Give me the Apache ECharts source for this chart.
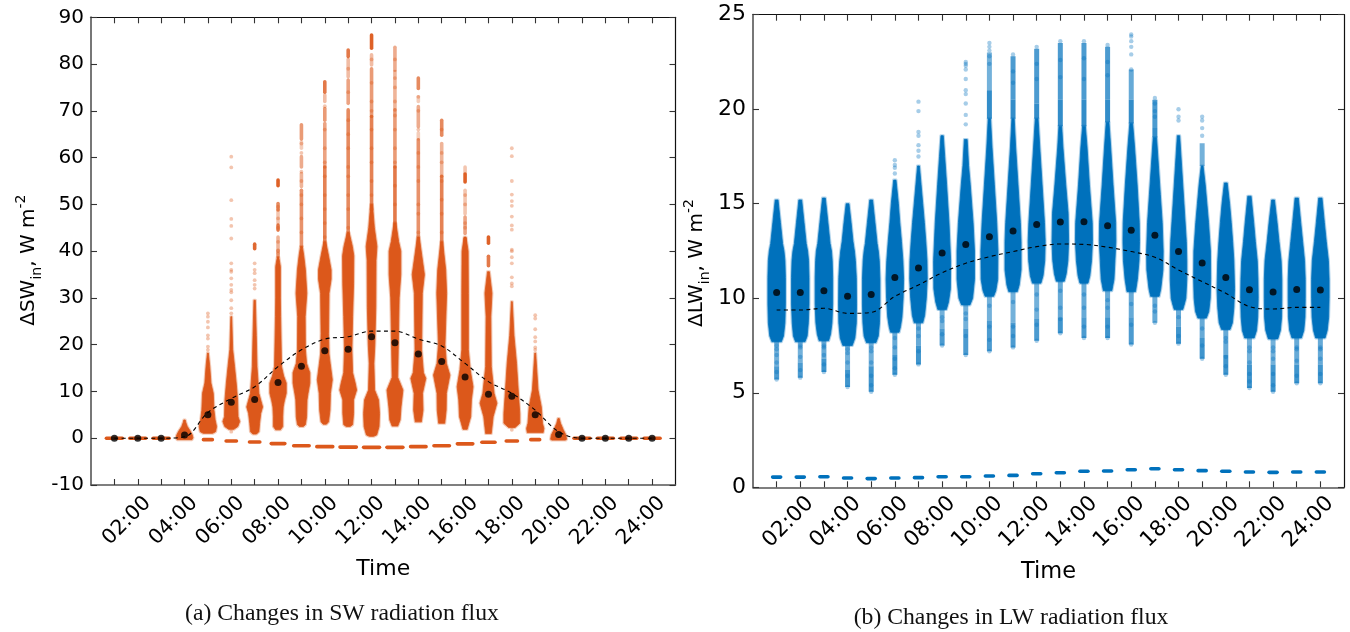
<!DOCTYPE html>
<html><head><meta charset="utf-8">
<script src="https://cdn.jsdelivr.net/npm/echarts@6/dist/echarts.min.js"></script>
<style>html,body{margin:0;padding:0;background:#fff}#c{width:1350px;height:632px}</style>
</head><body><div id="c"></div>
<script>
// ---------- shared ----------
const hours = [1,2,3,4,5,6,7,8,9,10,11,12,13,14,15,16,17,18,19,20,21,22,23,24];
const timeLabels = {2:'02:00',4:'04:00',6:'06:00',8:'08:00',10:'10:00',12:'12:00',14:'14:00',16:'16:00',18:'18:00',20:'20:00',22:'22:00',24:'24:00'};
const orange = '#DC581B', blue = '#0071BC';

// ---------- (a) SW ----------
const swMedian = [0,0,0,0.7,5,7.7,8.3,11.9,15.4,18.7,19,21.7,20.4,18,16.4,13.1,9.4,9,5,0.8,0,0,0,0];
const swMean = [0,0,0,0.3,5.5,8.5,11,15.3,18.9,21.2,21.7,22.9,22.9,21.2,19.7,16,12.1,9.6,6,1.4,0,0,0,0];
const swBase = [0,0,0,null,-0.3,-0.6,-0.8,-1.15,-1.6,-1.8,-1.9,-1.95,-1.95,-1.8,-1.6,-1.2,-0.85,-0.6,-0.3,null,0,0,0,0];
const swBaseHalf = [.34,.34,.34,0,.19,.22,.22,.29,.33,.34,.35,.34,.34,.33,.33,.33,.28,.24,.19,0,.34,.34,.34,.34];
// [value, half width in hours]
const swViolin = [
 [],[],[],
 [[3.9,.03],[3.3,.06],[2.5,.12],[1.5,.25],[0.7,.33],[0.1,.36],[-0.3,.32]],
 [[18.2,.02],[15.3,.08],[11.8,.13],[9.6,.23],[6,.26],[3.9,.31],[2.5,.37],[1.4,.33],[1.05,.2]],
 [[26,.02],[19,.06],[15.3,.14],[11.8,.21],[8.2,.27],[4.6,.29],[3.6,.36],[2.5,.28],[1.9,.11]],
 [[29.5,.03],[22,.07],[15.3,.1],[9.6,.18],[6.7,.34],[5.3,.26],[3.2,.21],[1.4,.18],[0.9,.08]],
 [[38.8,.03],[36.7,.1],[30,.1],[26,.11],[15.3,.15],[13.3,.24],[11.8,.35],[9.6,.35],[8,.27],[6.7,.22],[4.6,.2],[2.5,.2],[1.8,.1]],
 [[41,.04],[39,.1],[36,.17],[31,.23],[26,.16],[18.9,.17],[16,.22],[14,.36],[11.8,.36],[9.5,.28],[8.2,.24],[4.6,.22],[2.9,.17],[2.5,.08]],
 [[42,.04],[39,.16],[36,.27],[34,.27],[31,.18],[22.4,.16],[18,.18],[16,.23],[12.5,.32],[9.6,.24],[6,.22],[3.5,.16],[3,.07]],
 [[44,.04],[41,.18],[39,.24],[33,.23],[26,.19],[18.9,.16],[14,.19],[11.8,.3],[10.3,.36],[8.2,.23],[5.3,.23],[2.9,.19],[2.5,.08]],
 [[50,.04],[45,.12],[41,.23],[38,.19],[28,.18],[20,.14],[16,.1],[10.3,.13],[8.2,.3],[5.3,.34],[2.5,.32],[0.7,.22],[0.4,.09]],
 [[46,.04],[42,.16],[40,.25],[35,.25],[30,.18],[18.9,.14],[13,.12],[10.3,.34],[6.7,.26],[3.9,.22],[2.6,.12]],
 [[43,.04],[39,.15],[35,.26],[31,.17],[18.9,.14],[14,.22],[12.8,.32],[9.6,.18],[6,.2],[3.5,.13]],
 [[42,.04],[36,.17],[31,.21],[20,.14],[16,.2],[13.5,.35],[9.6,.2],[6,.19],[3.2,.13]],
 [[43,.04],[40,.13],[31,.14],[18.9,.14],[14.6,.22],[11,.34],[8.2,.27],[4.6,.24],[1.9,.09]],
 [[35.6,.04],[31,.15],[26,.1],[15.3,.12],[9.6,.24],[7.5,.36],[4.6,.2],[1,.12]],
 [[29.2,.02],[22,.09],[16,.2],[8.9,.29],[5.3,.34],[3.2,.34],[2.3,.14]],
 [[18.2,.02],[10.3,.12],[6.7,.26],[3.2,.31],[2.1,.37],[1.2,.34]],
 [[4.2,.03],[3.2,.08],[1.8,.2],[0.7,.31],[-0.2,.34],[-0.4,.3]],
 [],[],[],[]
];
// [low, high, opacity]
const swStreaks = [
 [],[],[],[],[],[],
 [[40.5,41.5,.9]],
 [[54,55.2,.95],[48.8,50.2,.7],[46,48.8,.35],[44.5,45.6,.8],[40,43,.45],[38.8,40.2,.5]],
 [[64,67,.6],[62,63.4,.3],[58,60.2,.5],[53.8,56.6,.45],[41,53,.65]],
 [[74,76.2,.8],[72,73.4,.4],[68,70.5,.6],[58,67.3,.55],[41,58,.75]],
 [[81.6,83,.8],[77.3,81,.4],[71.6,76.6,.55],[41,70.2,.7]],
 [[83.4,86.2,.95],[79.8,82,.4],[68.8,79,.6],[48.8,68.8,.75]],
 [[78.7,83.6,.5],[70.2,78.4,.45],[58,70.2,.6],[42,58,.8]],
 [[74.8,77,.7],[72,73,.3],[66.6,70.9,.5],[64,65.3,.3],[40,63.8,.65]],
 [[64.8,68,.7],[56,63,.45],[40,56,.75]],
 [[56.7,58,.35],[54.8,56.5,.95],[48,53,.35],[43.8,47.3,.55],[40.5,42.7,.8]],
 [[41.7,43,.95],[36.9,38.9,.8]],
 [],[],[],[],[],[],[]
];
const swSpeckle = [
 [],[],[],[],
 [26.7,26,24.9,23.7,22,21.3,19.6,18.9],
 [60.2,57.9,50.9,46.9,45.4,42.7,37.4,36,35.6,34.2,32.8,31.7,31.2,29.5,27.8,26.7,1.4],
 [37.4,36,35.3,33.8,32.8,32],
 [49.5,47,45,42,39.5],
 [63,61,57,55,52,50,47,44],
 [71,66,62,59,56,52,49,46,43],
 [79,74,68,65,62,58,56,52,49,45],
 [81,76,72,70,66,62,59,55,52,49,46],
 [81,77,75,72,69,66,62,59,54,50,46],
 [73,70,66,61,58,55,50,48,44],
 [66,61,59,55,51,48,44],
 [52,50,46,45],
 [],
 [62,60.3,55,52.1,50.7,49.7,47.4,45.5,44.6,40.3,40,38.7,37.4,34.4,33.1,32.5,1.8],
 [26.3,25.6,23.3,21.6,20.7,19.4,18.9],
 [],[],[],[],[]
];

// ---------- (b) LW ----------
const lwMedian = [10.3,10.3,10.4,10.1,10.2,11.1,11.6,12.4,12.84,13.26,13.56,13.9,14.03,14.05,13.84,13.6,13.33,12.47,11.87,11.1,10.45,10.33,10.47,10.44];
const lwMean = [9.38,9.38,9.47,9.2,9.25,10.1,10.7,11.35,11.85,12.2,12.47,12.73,12.87,12.85,12.7,12.47,12.17,11.5,10.88,10.26,9.56,9.43,9.52,9.52];
const lwBase = [.54,.54,.56,.49,.46,.49,.51,.56,.56,.6,.63,.72,.77,.85,.86,.93,.98,.93,.88,.85,.81,.79,.81,.81];
const lwBaseHalf = [.17,.17,.17,.17,.17,.17,.17,.17,.17,.17,.17,.17,.17,.17,.17,.17,.17,.17,.17,.17,.17,.17,.17,.17];
const lwViolin = [
 [[15.2,.06],[14,.16],[12.9,.25],[12.5,.31],[12,.35],[11.1,.37],[9.7,.37],[8.7,.35],[8,.29],[7.7,.2]],
 [[15.2,.06],[14,.16],[12.9,.25],[12.5,.31],[12,.35],[11.1,.37],[9.7,.37],[8.7,.34],[8,.29],[7.7,.2]],
 [[15.3,.06],[14,.17],[12.9,.26],[12.5,.32],[12,.35],[11.1,.37],[9.7,.37],[8.7,.34],[8.1,.28],[7.75,.2]],
 [[15,.06],[14,.15],[13,.23],[12.5,.29],[12,.33],[11.1,.37],[9.7,.38],[8.7,.37],[7.9,.31],[7.5,.2]],
 [[15.2,.06],[14,.16],[12.9,.25],[12.5,.3],[12,.34],[11,.37],[9.7,.37],[8.7,.35],[8,.3],[7.65,.2]],
 [[16.25,.05],[15,.15],[14,.21],[13,.28],[12,.34],[11,.37],[10,.35],[9,.3],[8.5,.24],[8.2,.18]],
 [[17,.04],[16,.11],[15,.18],[14,.25],[13,.31],[12,.36],[11,.37],[10,.33],[9.1,.26],[8.7,.18]],
 [[18.6,.05],[17.5,.11],[16,.19],[14,.29],[12,.36],[10.5,.35],[9.8,.27],[9.4,.18]],
 [[18.4,.06],[17,.12],[16,.19],[14,.31],[12.5,.37],[11,.37],[10,.29],[9.65,.18]],
 [[19.5,.05],[18,.11],[16,.21],[14,.31],[12.5,.36],[11,.35],[10.4,.27],[10.1,.18]],
 [[19.5,.05],[18,.11],[16,.21],[14,.31],[13,.34],[11.5,.34],[10.7,.26],[10.35,.18]],
 [[19.5,.06],[18,.13],[16,.23],[14,.33],[13,.36],[12,.34],[11.2,.27],[10.8,.18]],
 [[19.1,.06],[18,.11],[16,.23],[14.5,.33],[13,.35],[12,.32],[11.3,.25],[10.9,.17]],
 [[19.1,.06],[18,.13],[16,.23],[14,.35],[13,.36],[12,.32],[11.2,.25],[10.8,.17]],
 [[19.3,.06],[18,.13],[16,.23],[14,.34],[13,.35],[12,.31],[11,.27],[10.4,.18]],
 [[19.25,.06],[18,.14],[16,.25],[14,.34],[13,.35],[12,.33],[11,.26],[10.35,.18]],
 [[18.5,.07],[17,.15],[15.5,.23],[14,.31],[12.5,.35],[11.5,.34],[10.5,.25],[10.1,.18]],
 [[18.6,.05],[17,.13],[15,.23],[13,.33],[12,.35],[11,.35],[10,.31],[9.7,.25],[9.4,.18]],
 [[17,.04],[16,.13],[15,.2],[14,.27],[12.5,.35],[11,.36],[10,.34],[9.3,.28],[8.95,.18]],
 [[16.1,.06],[15,.16],[14,.23],[13,.29],[12,.34],[10.5,.37],[9.5,.34],[8.7,.28],[8.35,.18]],
 [[15.4,.07],[14,.18],[13,.25],[12,.33],[11,.36],[10,.37],[9,.35],[8.3,.3],[7.9,.2]],
 [[15.2,.06],[14,.17],[13,.25],[12,.34],[11,.37],[10,.37],[9,.36],[8.3,.31],[7.85,.2]],
 [[15.3,.07],[14,.17],[13,.25],[12,.33],[11,.36],[10,.36],[9,.35],[8.3,.3],[7.9,.2]],
 [[15.3,.07],[14,.17],[13,.25],[12,.34],[11,.37],[10,.37],[9,.35],[8.3,.29],[7.9,.2]]
];
const lwStreaks = [
 [[6.4,7.8,.55],[5.7,6.4,.7]],
 [[6.6,7.8,.55],[5.8,6.6,.7]],
 [[6.8,7.8,.6],[6.1,6.8,.75]],
 [[6.2,7.6,.55],[5.3,6.2,.75]],
 [[6.4,7.7,.55],[5.05,6.4,.75]],
 [[7,8.3,.6],[5.95,7,.75]],
 [[7.5,8.8,.6],[6.5,7.5,.75]],
 [[8.4,9.5,.55],[7.5,8.4,.7]],
 [[8.4,9.7,.55],[7,8.4,.7]],
 [[8.8,10.1,.55],[7.2,8.8,.7],[19.5,21,.8],[21,23,.55]],
 [[8.7,10.4,.55],[7.4,8.7,.7],[19.5,20.5,.8],[20.5,22.8,.7]],
 [[8.9,10.8,.55],[7.75,8.9,.7],[19.5,20.3,.8],[20.3,23.2,.7]],
 [[9,11,.6],[8.15,9,.75],[19.1,20.5,.8],[20.5,23.5,.7]],
 [[9,10.9,.6],[7.9,9,.7],[19.1,20.5,.8],[20.5,23.5,.7]],
 [[9,10.5,.6],[7.9,9,.75],[19.3,20.5,.8],[20.5,23.3,.7]],
 [[9,10.4,.6],[7.55,9,.7],[19.25,20.5,.8],[20.5,22.1,.6]],
 [[8.7,10.2,.6],[19,20.5,.7],[18.5,19,.8]],
 [[8.5,9.5,.6],[7.6,8.5,.75]],
 [[7.9,9,.6],[6.8,7.9,.75],[17,18.2,.55]],
 [[7,8.4,.6],[5.95,7,.75]],
 [[6.5,8,.55],[5.25,6.5,.75]],
 [[6.5,7.9,.55],[5.05,6.5,.75]],
 [[6.5,8,.6],[5.5,6.5,.75]],
 [[6.5,8,.6],[5.5,6.5,.75]]
];
const lwSpeckle = [
 [7.5,7.3,7,6.6,6.1,5.7],[7.5,7.4,6.9,6.2,5.8],[7.5,7.4,7,6.5,6.1],[7.3,7.1,6.6,5.9,5.3],[7.4,7.2,6.6,5.9,5.4,5.05],
 [16.6,16.9,17.05,17.3,7.9,7.4,6.8,6.3,5.95],
 [20.4,19.9,18.8,18.6,18.1,17.8,17.5,8.4,8,7.2,6.5],
 [9,8.8,8.1,7.5],
 [22.5,22.4,22.3,22.1,21.6,21,20.8,20.3,19.7,19.2,9.2,8.9,8,7],
 [23.5,23.3,23.1,22.8,22.4,9.6,8.5,7.8,7.2],
 [22.9,22,21.4,9.8,8.5,8,7.4],
 [23.3,22.4,21.6,10.2,9.4,8.6,7.75],
 [23.6,22.6,21.7,10.4,9.5,8.9,8.15],
 [23.6,22.7,21.6,10.2,9.5,8.5,7.9],
 [23.4,22.5,21.8,9.9,9.5,8.5,7.9],
 [23.95,23.85,23.6,23.3,22.9,22.1,9.7,8.6,7.55],
 [20.6,20.3,19.9,19.6,9.6,9.3,8.7],
 [20,19.6,19.4,9,8,7.6],
 [19.6,19.4,19,18.6,8.4,7.5,6.8],
 [7.9,7.7,6.9,6.4,5.95],
 [7.4,7.2,6.6,6,5.6,5.25],
 [7.4,7.2,6.8,6,5.4,5.05],
 [7.4,7.3,6.7,5.9,5.5],
 [7.4,7.3,6.8,6,5.5]
];

// ---------- drawing helpers (geometry comes from api.coord only) ----------
function violinSeries(axis, profiles, color){
  return {type:'custom', xAxisIndex:axis, yAxisIndex:axis, silent:true, clip:true, z:2,
    data:hours.map(h=>[h,0]),
    renderItem(p, api){
      const h = hours[p.dataIndex], stops = profiles[p.dataIndex];
      if(!stops.length) return;
      const pts = stops.map(s=>api.coord([h-s[1],s[0]]))
        .concat(stops.slice().reverse().map(s=>api.coord([h+s[1],s[0]])));
      return {type:'group', children:[
        {type:'polygon', shape:{points:pts}, style:{fill:'none', stroke:color, opacity:.3, lineWidth:3, lineJoin:'round'}},
        {type:'polygon', shape:{points:pts}, style:{fill:color, stroke:color, lineWidth:.8, lineJoin:'round'}}
      ]};
    }};
}
function streakSeries(axis, streaks, color, width, cap){
  const items = [];
  hours.forEach((h,i)=>streaks[i].forEach(s=>items.push([h,s[0],s[1],s[2]])));
  return {type:'custom', xAxisIndex:axis, yAxisIndex:axis, silent:true, clip:true, z:1,
    data:items,
    renderItem(p, api){
      const a = api.coord([api.value(0),api.value(1)]), b = api.coord([api.value(0),api.value(2)]);
      return {type:'line', shape:{x1:a[0],y1:a[1],x2:b[0],y2:b[1]},
        style:{stroke:color, lineWidth:width, lineCap:cap, opacity:api.value(3)}};
    }};
}
function speckleSeries(axis, speckle, color, size){
  const pts = [];
  hours.forEach((h,i)=>speckle[i].forEach(v=>pts.push([h,v])));
  return {type:'scatter', xAxisIndex:axis, yAxisIndex:axis, silent:true, z:3, symbolSize:size,
    itemStyle:{color, opacity:.35}, data:pts};
}
function baseSeries(axis, base, half, color){
  const items = hours.map((h,i)=>[h,base[i],half[i]]).filter(d=>d[1]!==null);
  return {type:'custom', xAxisIndex:axis, yAxisIndex:axis, silent:true, clip:true, z:2,
    data:items,
    renderItem(p, api){
      const a = api.coord([api.value(0)-api.value(2),api.value(1)]), b = api.coord([api.value(0)+api.value(2),api.value(1)]);
      return {type:'line', shape:{x1:a[0],y1:a[1],x2:b[0],y2:b[1]},
        style:{stroke:color, lineWidth:3.6, lineCap:'round'}};
    }};
}
function meanSeries(axis, mean){
  return {type:'line', xAxisIndex:axis, yAxisIndex:axis, silent:true, z:4, smooth:.35, showSymbol:false,
    lineStyle:{color:'#000', width:1.1, type:[4,3.4]}, data:hours.map((h,i)=>[h,mean[i]])};
}
function medianSeries(axis, median){
  return {type:'scatter', xAxisIndex:axis, yAxisIndex:axis, silent:true, z:5, symbolSize:7,
    itemStyle:{color:'#000'}, data:hours.map((h,i)=>[h,median[i]])};
}
function xAxes(grid, size, nameSize, gap, margin){
  const tick = {show:true, inside:true, length:6, lineStyle:{color:'#333', width:1.1}, customValues:hours};
  return [
   {type:'value', gridIndex:grid, min:0, max:25, interval:1, position:'bottom', splitLine:{show:false},
    name:'Time', nameLocation:'middle', nameGap:gap, nameTextStyle:{fontFamily:'DejaVu Sans', fontSize:nameSize, color:'#000'},
    axisLine:{onZero:false, lineStyle:{color:'#555', width:1.5}}, axisTick:tick,
    axisLabel:{rotate:45, margin, verticalAlign:'top', lineHeight:28, fontFamily:'DejaVu Sans', fontSize:size, color:'#000',
      customValues:Object.keys(timeLabels).map(Number), formatter:v=>timeLabels[v]||''}},
   {type:'value', gridIndex:grid, min:0, max:25, interval:1, position:'top', splitLine:{show:false},
    axisLine:{onZero:false, lineStyle:{color:'#111', width:1.2}}, axisTick:tick, axisLabel:{show:false}}
  ];
}
function yAxes(grid, min, max, step, size, nameSize, sym, gap, pad){
  const tick = {show:true, inside:true, length:6, lineStyle:{color:'#333', width:1.1}};
  return [
   {type:'value', gridIndex:grid, min, max, interval:step, position:'left', splitLine:{show:false},
    name:'{a|Δ'+sym+'}{s|in}{a|, W m}{u|-2}', nameLocation:'middle', nameRotate:90, nameGap:gap,
    nameTextStyle:{fontFamily:'DejaVu Sans', color:'#000', padding:[0,pad,0,0],
      rich:{a:{fontFamily:'DejaVu Sans',fontSize:nameSize,lineHeight:30,color:'#000'},
            s:{fontFamily:'DejaVu Sans',fontSize:nameSize-6,lineHeight:14,verticalAlign:'bottom',color:'#000'},
            u:{fontFamily:'DejaVu Sans',fontSize:nameSize-6,lineHeight:14,verticalAlign:'top',color:'#000'}}},
    axisLine:{onZero:false, lineStyle:{color:'#777', width:2}}, axisTick:tick,
    axisLabel:{margin:7, fontFamily:'DejaVu Sans', fontSize:size, color:'#000'}},
   {type:'value', gridIndex:grid, min, max, interval:step, position:'right', splitLine:{show:false},
    axisLine:{onZero:false, lineStyle:{color:'#111', width:1.2}}, axisTick:tick, axisLabel:{show:false}}
  ];
}

const option = {
  animation:false,
  backgroundColor:'#fff',
  grid:[
    {left:91, top:17.3, width:584.5, height:467.7},
    {left:753, top:14.7, width:591, height:472.6}
  ],
  xAxis:[...xAxes(0,20.5,22,71,5), ...xAxes(1,21.5,22.5,69,3)],
  yAxis:[...yAxes(0,-10,90,10,20,20,'SW',47,18), ...yAxes(1,0,25,5,22,20,'LW',41,24)],
  title:[
    {text:'(a) Changes in SW radiation flux', left:337, top:597, textAlign:'center',
     textStyle:{fontFamily:'Liberation Serif', fontSize:23.7, fontWeight:'normal', color:'#111'}},
    {text:'(b) Changes in LW radiation flux', left:1006, top:601, textAlign:'center',
     textStyle:{fontFamily:'Liberation Serif', fontSize:23.7, fontWeight:'normal', color:'#111'}}
  ],
  series:[
    violinSeries(0,swViolin,orange), streakSeries(0,swStreaks,orange,3.6,'round'), speckleSeries(0,swSpeckle,orange,3.8),
    baseSeries(0,swBase,swBaseHalf,orange), meanSeries(0,swMean), medianSeries(0,swMedian),
    violinSeries(2,lwViolin,blue), streakSeries(2,lwStreaks,blue,5,'butt'), speckleSeries(2,lwSpeckle,blue,4.4),
    baseSeries(2,lwBase,lwBaseHalf,blue), meanSeries(2,lwMean), medianSeries(2,lwMedian)
  ]
};
const chart = echarts.init(document.getElementById('c'), null, {renderer:'canvas'});
chart.setOption(option);
</script></body></html>
